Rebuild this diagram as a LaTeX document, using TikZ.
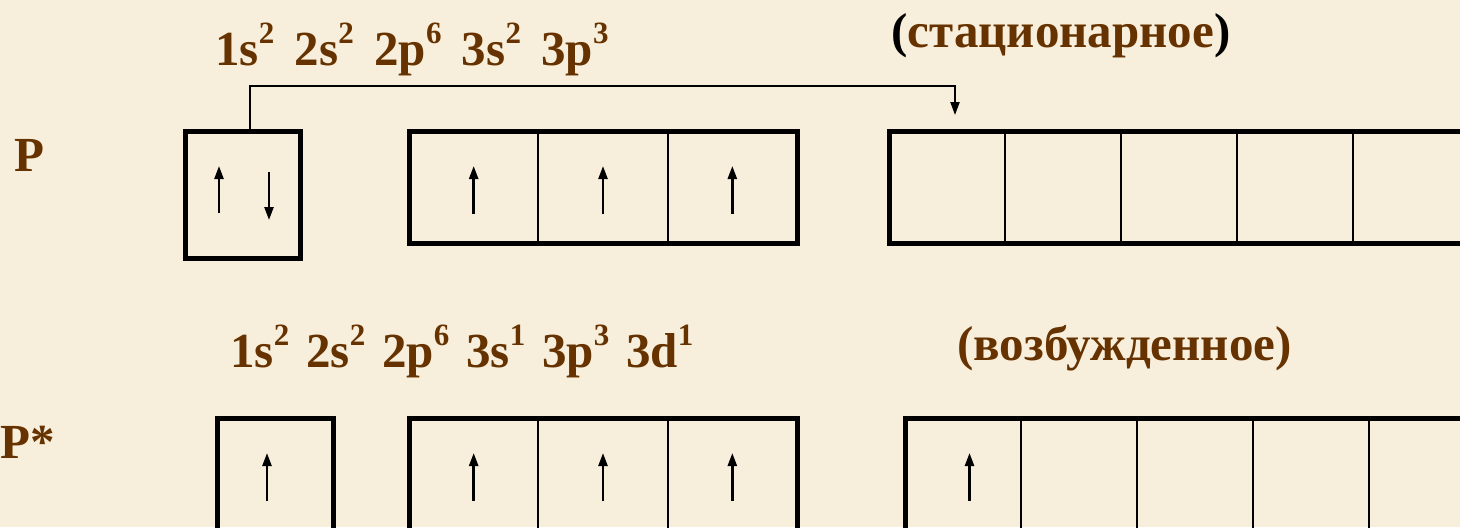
\documentclass[tikz,border=0pt]{standalone}
\usepackage{fontspec}
\setmainfont{Liberation Serif}
\usetikzlibrary{positioning,arrows.meta}
\definecolor{paper}{HTML}{F7EEDC}
\definecolor{rust}{HTML}{663300}
\newcommand\sps[1]{\raisebox{11pt}{\fontsize{15.5}{15.5}\selectfont #1}}

\begin{document}
\begin{tikzpicture}[x=0.5pt,y=-0.5pt,
    cell/.style={draw,line width=1pt,minimum width=#1,minimum height=56pt,inner sep=0pt,outer sep=0pt},
    cell/.default=58pt,
    frame/.style={line width=2.5pt},
    spin/.style={line width=1.2pt,-{Triangle[length=6.5pt,width=4.5pt]}},
    link/.style={line width=1pt,-{Triangle[length=6.5pt,width=4.5pt]}},
    lbl/.style={font=\bfseries\fontsize{24.5}{28}\selectfont,text=rust,inner sep=0pt,anchor=base west}]
  \fill[paper] (0,0) rectangle (1460,527);
  \clip (0,0) rectangle (1460,527);
  % ground state
  \node[cell=57.5pt,minimum height=63.5pt,frame] (a1s) at (242.5,194.5) {};
  \foreach \i/\x in {1/473.67,2/603,3/732.33}
    \node[cell=64.67pt] (a2p\i) at (\x,187) {};
  \draw[frame] (a2p1.north west) rectangle (a2p3.south east);
  \foreach \i/\x in {1/947,2/1063,3/1179,4/1295,5/1411}
    \node[cell] (a3d\i) at (\x,187) {};
  \draw[frame] (a3d1.north west) rectangle (a3d5.south east);
  % excited state
  \node[cell=58pt,frame] (b1s) at (275,474) {};
  \foreach \i/\x in {1/473.67,2/603,3/732.33}
    \node[cell=64.67pt] (b2p\i) at (\x,474) {};
  \draw[frame] (b2p1.north west) rectangle (b2p3.south east);
  \foreach \i/\x in {1/963,2/1079,3/1195,4/1311,5/1427}
    \node[cell] (b3d\i) at (\x,474) {};
  \draw[frame] (b3d1.north west) rectangle (b3d5.south east);
  % electrons
  \draw[spin] ([shift={(-11.75pt,-9.25pt)}]a1s.center) -- ++(0,-47);
  \draw[spin] ([shift={(13.25pt,11.25pt)}]a1s.center) -- ++(0,48);
  \foreach \c in {a2p1,a2p2,a2p3,b2p1,b2p2,b2p3}
    \draw[spin] ([yshift=-13.5pt]\c.center) -- ++(0,-48);
  \draw[spin] ([shift={(-4pt,-13.5pt)}]b1s.center) -- ++(0,-48);
  \draw[spin] ([shift={(3.25pt,-13.5pt)}]b3d1.center) -- ++(0,-48);
  % 3s -> 3d
  \coordinate (hit) at ([xshift=4pt,yshift=8pt]a3d1.north);
  \draw[link] ([xshift=3.75pt]a1s.north) -- ++(0,-45) -| (hit);
  % labels
  \node[lbl] (cfg1) at (215,65) {\spaceskip=10.2pt\relax 1s\sps2 2s\sps2 2p\sps6 3s\sps2 3p\sps3};
  \node[lbl] (state1) at (891,47) {{\color{black}(}стационарное{\color{black})}};
  \node[lbl] (cfg2) at (230,367) {\spaceskip=8.4pt\relax 1s\sps2 2s\sps2 2p\sps6 3s\sps1 3p\sps3 3d\sps1};
  \node[lbl] (state2) at (957,360) {(возбужденное)};
  \node[lbl] (atom1) at (14,171) {P};
  \node[lbl] (atom2) at (0,458) {P*};
\end{tikzpicture}
\end{document}
